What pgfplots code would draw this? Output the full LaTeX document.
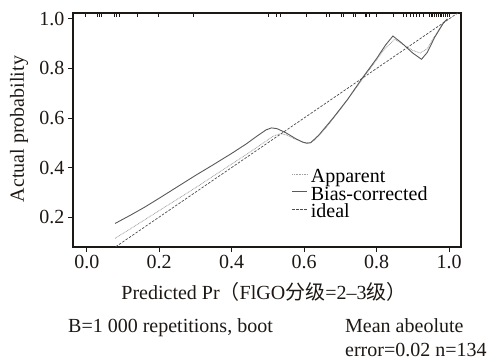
\documentclass[border=0pt]{standalone}
\usepackage{pgfplots}
\pgfplotsset{compat=1.18}
\usepackage{fontspec}
\setmainfont{Liberation Serif}
\newfontfamily\cjk{Noto Sans CJK SC}
\newcommand\fs{\fontsize{20bp}{22bp}\selectfont}
\definecolor{axcol}{RGB}{30,24,20}
\begin{document}
\begin{tikzpicture}
\begin{axis}[
  at={(0,0)}, anchor=south west,
  scale only axis, width=388bp, height=234bp,
  xmin=-0.038, xmax=1.033, ymin=0.079, ymax=1.024,
  axis line style={line width=1.1bp, axcol},
  tick align=outside, tick pos=left, major tick length=5bp,
  tick style={line width=0.9bp, axcol},
  xtick={0,0.2,0.4,0.6,0.8,1.0}, ytick={0.2,0.4,0.6,0.8,1.0},
  /pgf/number format/fixed, /pgf/number format/fixed zerofill,
  /pgf/number format/precision=1, /pgf/number format/assume math mode=true,
  tick label style={font=\fs, text=axcol},
  legend style={draw=none, fill=none, at={(0.5644,0.3300)}, anchor=north west,
    inner sep=0pt, outer sep=0pt, font=\fs, row sep=0pt,
    nodes={text height=13bp, text depth=4.5bp, inner sep=0pt},
    /tikz/column 1/.style={column sep=3bp}},
  legend cell align=left,
  legend image code/.code={\draw[#1] (0bp,4.5bp) -- (15bp,4.5bp);},
]
\addplot[gray!75, line width=0.8bp, dash pattern=on 0.8bp off 0.8bp] coordinates {
(0.078,0.114)(0.12,0.152)(0.16,0.189)(0.20,0.226)(0.25,0.272)(0.30,0.318)
(0.35,0.366)(0.40,0.414)(0.45,0.462)(0.49,0.502)(0.515,0.527)(0.535,0.537)
(0.55,0.532)(0.575,0.515)(0.60,0.501)(0.615,0.500)(0.63,0.512)(0.66,0.560)
(0.70,0.635)(0.74,0.715)(0.78,0.795)(0.82,0.875)(0.85,0.918)(0.875,0.895)
(0.90,0.873)(0.92,0.862)(0.94,0.88)(0.96,0.93)(0.985,0.985)(0.998,1.0)};
\addlegendentry{Apparent}
\addplot[black!65, line width=0.9bp] coordinates {
(0.078,0.174)(0.12,0.207)(0.16,0.240)(0.20,0.276)(0.25,0.322)(0.30,0.368)
(0.35,0.412)(0.40,0.457)(0.44,0.495)(0.47,0.527)(0.495,0.552)(0.51,0.560)
(0.525,0.557)(0.55,0.540)(0.575,0.518)(0.595,0.503)(0.607,0.498)(0.618,0.500)
(0.64,0.530)(0.68,0.600)(0.72,0.675)(0.76,0.760)(0.80,0.840)(0.825,0.895)
(0.845,0.931)(0.87,0.902)(0.90,0.862)(0.924,0.837)(0.94,0.865)(0.96,0.925)
(0.985,0.985)(0.995,1.0)};
\addlegendentry{Bias-corrected}
\addplot[black!70, line width=0.7bp, dash pattern=on 2.5bp off 1.5bp] coordinates {
(0.08,0.08)(1.04,1.04)};
\addlegendentry{ideal}
\addplot[only marks, mark=|, mark size=2.2bp, axcol, line width=0.7bp, forget plot] coordinates {
(-0.005,1.017)(0.029,1.017)(0.034,1.017)(0.041,1.017)(0.076,1.017)(0.083,1.017)
(0.090,1.017)(0.140,1.017)(0.198,1.017)(0.294,1.017)(0.501,1.017)(0.524,1.017)
(0.533,1.017)(0.607,1.017)(0.662,1.017)(0.669,1.017)(0.703,1.017)(0.708,1.017)
(0.736,1.017)(0.742,1.017)(0.768,1.017)(0.772,1.017)(0.781,1.017)(0.800,1.017)
(0.846,1.017)(0.873,1.017)(0.882,1.017)(0.892,1.017)(0.901,1.017)(0.910,1.017)
(0.919,1.017)(0.928,1.017)(0.947,1.017)(0.951,1.017)(0.955,1.017)(0.960,1.017)
(0.965,1.017)(0.970,1.017)(0.975,1.017)(0.980,1.017)(0.985,1.017)(0.990,1.017)
(0.995,1.017)(1.000,1.017)};
\end{axis}
\node[font=\fs, text=axcol, anchor=base] at (191bp,-52bp) {Predicted Pr{\cjk （}FlGO{\cjk 分级}=2–3{\cjk 级）}};
\node[font=\fs, text=axcol, rotate=90, anchor=base] at (-49bp,118bp) {Actual probability};
\node[font=\fs, text=axcol, anchor=base west, inner sep=0pt] at (-5bp,-85bp) {B=1 000 repetitions, boot};
\node[font=\fs, text=axcol, anchor=base west, inner sep=0pt] at (272bp,-85bp) {Mean abeolute};
\node[font=\fs, text=axcol, anchor=base west, inner sep=0pt] at (272bp,-109bp) {error=0.02 n=134};
\path[use as bounding box] (-73bp,-113bp) rectangle (421bp,247bp);
\end{tikzpicture}
\end{document}
